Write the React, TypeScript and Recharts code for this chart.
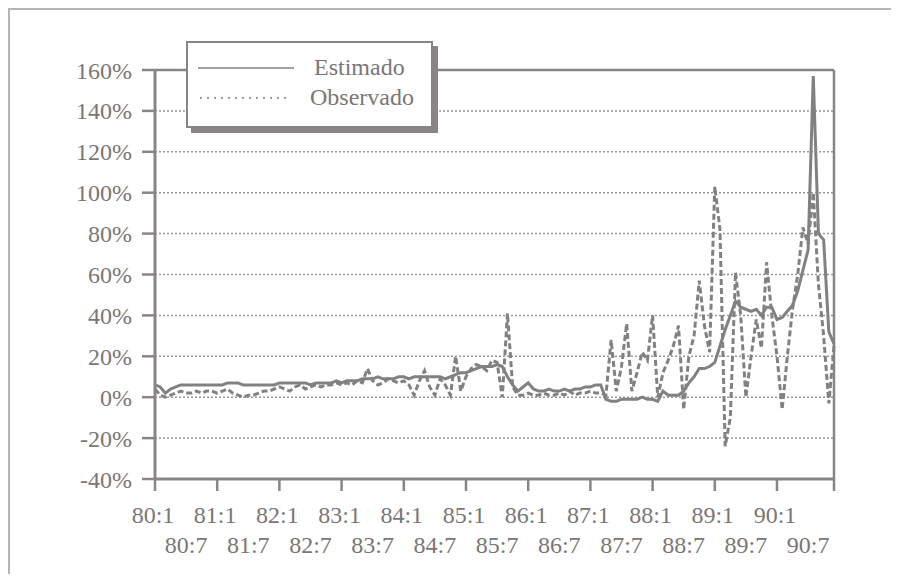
import React from 'react';
import { LineChart, Line, XAxis, YAxis, CartesianGrid, ReferenceLine } from 'recharts';

// monthly observations 80:1 .. 90:12 (index 0..131)
const estimado: number[] = [
  6, 5, 2, 4, 5, 6, 6, 6, 6, 6, 6, 6,
  6, 6, 7, 7, 7, 6, 6, 6, 6, 6, 6, 6,
  7, 7, 7, 7, 7, 7, 6, 7, 7, 7, 7, 8,
  7, 8, 8, 8, 9, 9, 9, 10, 9, 9, 9, 10,
  10, 9, 10, 10, 10, 10, 10, 10, 9, 10, 11, 12,
  12, 13, 14, 15, 15, 15, 16, 15, 10, 6, 3, 5,
  7, 4, 3, 3, 4, 3, 3, 4, 3, 4, 4, 5,
  5, 6, 6, -1, -2, -2, -1, -1, -1, -1, 0, -1,
  -1, -2, 3, 1, 1, 1, 3, 7, 10, 14, 14, 15,
  17, 25, 33, 40, 47, 44, 43, 42, 43, 40, 44, 44,
  38, 39, 42, 45, 52, 62, 72, 157, 80, 77, 32, 26,
];

const observado: number[] = [
  4, 1, 0, 1, 2, 3, 2, 2, 3, 2, 3, 3,
  2, 3, 4, 2, 1, 0, 1, 1, 2, 3, 3, 4,
  5, 4, 3, 5, 6, 4, 5, 6, 5, 6, 6, 7,
  6, 7, 6, 8, 7, 14, 8, 6, 7, 9, 8, 7,
  8, 6, 1, 8, 13, 5, 1, 9, 6, 1, 20, 3,
  10, 14, 16, 15, 13, 18, 17, 0, 41, 5, 1, 1,
  2, 1, 1, 2, 1, 1, 2, 1, 3, 1, 2, 2,
  3, 2, 2, 1, 28, 3, 15, 36, 3, 12, 22, 18,
  40, 0, 12, 18, 25, 35, -6, 20, 30, 57, 35, 22,
  103, 82, -24, -10, 61, 40, 0, 20, 38, 24, 66, 40,
  20, -6, 20, 43, 60, 83, 75, 100, 55, 30, -3, 25,
];

const startYear = 80;
const yTicks: number[] = [-40, -20, 0, 20, 40, 60, 80, 100, 120, 140, 160];
const xTicks: number[] = [0, 6, 12, 18, 24, 30, 36, 42, 48, 54, 60, 66, 72, 78, 84, 90, 96, 102, 108, 114, 120, 126, 131];

const data = estimado.map((e, i) => ({ i, estimado: e, observado: observado[i] }));

const FONT = '"Liberation Serif", "Times New Roman", serif';
const INK = '#7b7676';
const LINE = '#838080';
const AXIS = '#8a8585';

const XTick = (props: any) => {
  const { x, y, payload } = props;
  const v: number = payload.value;
  if (v === 131) {
    return <line x1={x} x2={x} y1={y} y2={y + 12} stroke={AXIS} strokeWidth={2.5} />;
  }
  const yr = startYear + Math.floor(v / 12);
  const isJan = v % 12 === 0;
  return (
    <g>
      {isJan && <line x1={x} x2={x} y1={y} y2={y + 12} stroke={AXIS} strokeWidth={2.5} />}
      <text
        x={isJan ? x - 2 : x}
        y={isJan ? y + 44 : y + 74}
        textAnchor="middle"
        fill={INK}
        fontSize={24}
        fontFamily={FONT}
      >
        {isJan ? `${yr}:1` : `${yr}:7`}
      </text>
    </g>
  );
};

export default function App() {
  return (
    <div style={{ position: 'relative', width: 883, height: 566 }}>
      <div
        style={{
          position: 'absolute',
          left: 0,
          top: 0,
          width: 885,
          height: 566,
          borderTop: '2px solid #b9b4b4',
          borderLeft: '2px solid #b9b4b4',
          boxSizing: 'border-box',
          pointerEvents: 'none',
        }}
      />
      <LineChart
        width={883}
        height={566}
        data={data}
        margin={{ top: 62, right: 57, bottom: 0, left: 0 }}
        style={{ fontFamily: FONT }}
      >
        <CartesianGrid vertical={false} stroke="#9a9696" strokeDasharray="2 2" strokeWidth={1.5} />
        <XAxis
          dataKey="i"
          type="number"
          domain={[0, 131]}
          ticks={xTicks}
          interval={0}
          tickLine={false}
          tickSize={0}
          tickMargin={0}
          tick={<XTick />}
          axisLine={{ stroke: AXIS, strokeWidth: 3 }}
          height={95}
        />
        <YAxis
          type="number"
          domain={[-40, 160]}
          ticks={yTicks}
          interval={0}
          width={147}
          tickSize={13}
          tickMargin={10}
          tickFormatter={(v: number) => `${v}%`}
          tick={{ fill: INK, fontSize: 24, fontFamily: FONT }}
          tickLine={{ stroke: AXIS, strokeWidth: 2.5 }}
          axisLine={{ stroke: AXIS, strokeWidth: 3 }}
        />
        <ReferenceLine y={160} stroke={AXIS} strokeWidth={2.5} />
        <ReferenceLine x={131} stroke={AXIS} strokeWidth={2.5} />
        <Line
          type="linear"
          dataKey="observado"
          stroke={LINE}
          strokeWidth={3}
          strokeDasharray="6 3"
          dot={false}
          isAnimationActive={false}
        />
        <Line
          type="linear"
          dataKey="estimado"
          stroke={LINE}
          strokeWidth={3}
          dot={false}
          isAnimationActive={false}
        />
      </LineChart>
      <div
        style={{
          position: 'absolute',
          left: 178,
          top: 33,
          width: 247,
          height: 87,
          boxSizing: 'border-box',
          border: `2px solid ${AXIS}`,
          background: '#fff',
          boxShadow: `5px 5px 0 ${AXIS}`,
          fontFamily: FONT,
          fontSize: 24,
          color: INK,
        }}
      >
        <svg width={120} height={80} style={{ position: 'absolute', left: 0, top: 0 }}>
          <line x1={10} x2={106} y1={25} y2={25} stroke={LINE} strokeWidth={1.5} />
          <line x1={12} x2={98} y1={55} y2={55} stroke="#a09c9c" strokeWidth={2} strokeDasharray="2 5" />
        </svg>
        <div style={{ position: 'absolute', left: 126, top: 10, lineHeight: '28px' }}>Estimado</div>
        <div style={{ position: 'absolute', left: 122, top: 40, lineHeight: '28px' }}>Observado</div>
      </div>
    </div>
  );
}
